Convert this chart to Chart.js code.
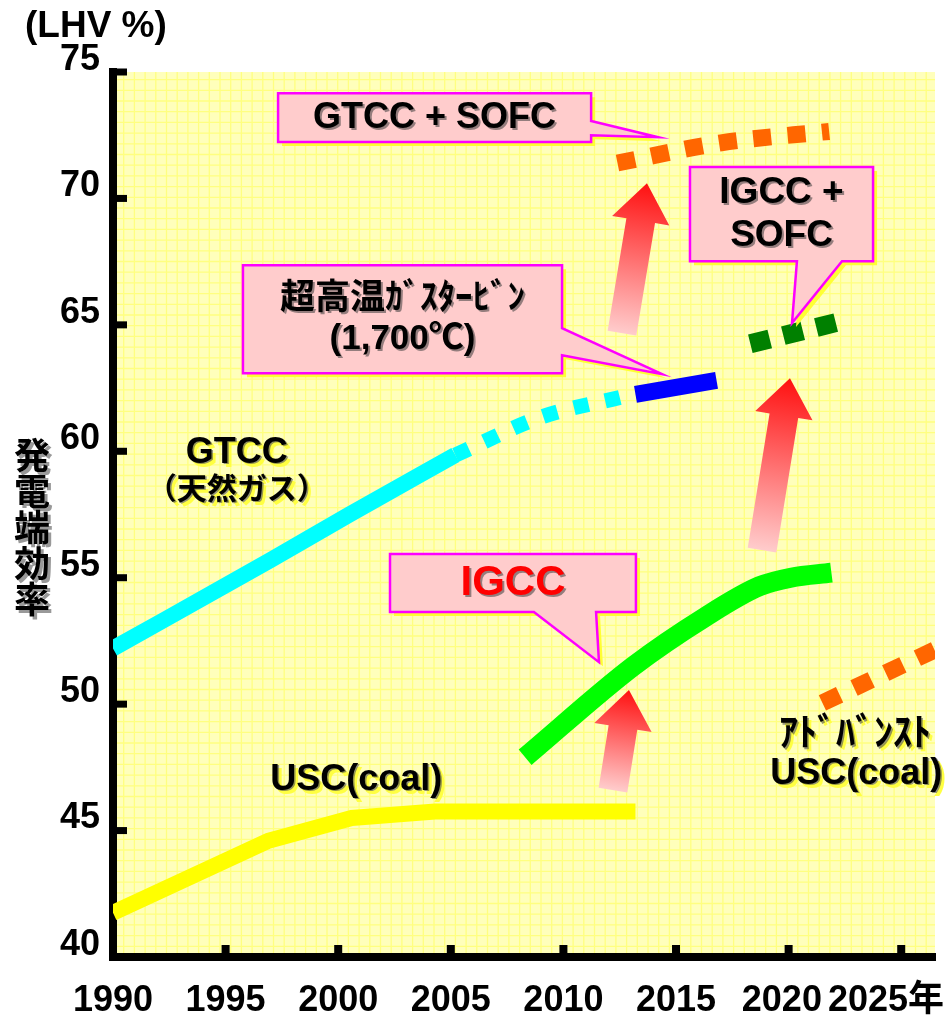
<!DOCTYPE html>
<html>
<head>
<meta charset="utf-8">
<script src="https://cdn.jsdelivr.net/npm/chart.js@4.4.1/dist/chart.umd.min.js"></script>
<style>
  html, body { margin: 0; padding: 0; background: #fff; }
</style>
</head>
<body>
<canvas id="chart" width="946" height="1021"></canvas>
<script>
// --- 軸 ---
const xTicks = [1990, 1995, 2000, 2005, 2010, 2015, 2020, 2025];
const xTickLabels = ['1990', '1995', '2000', '2005', '2010', '2015', '2020', '2025年'];
const yTicks = [40, 45, 50, 55, 60, 65, 70, 75];

// --- 系列（年, 発電端効率 LHV%） ---
const uscYears = [1990, 1996.9, 2000.6, 2004.3, 2013.2];
const uscEff   = [41.75, 44.6, 45.5, 45.75, 45.75];

const gtccYears = [1990, 1997.0, 2000.5, 2005.2];
const gtccEff   = [52.2, 55.7, 57.5, 59.85];

const gtccExtYears = [2005.2, 2009.0, 2012.6];
const gtccExtEff   = [59.85, 61.35, 62.15];

const uhtYears = [2013.2, 2016.8];
const uhtEff   = [62.25, 62.8];

const gtccSofcYears = [2012.4, 2017.0, 2021.8];
const gtccSofcEff   = [71.4, 72.2, 72.65];

const igccYears = [2008.3, 2013.1, 2016.3, 2018.7, 2020.1, 2021.9];
const igccEff   = [47.9, 51.5, 53.45, 54.66, 55.0, 55.2];

const igccSofcYears = [2018.3, 2022.15];
const igccSofcEff   = [64.25, 65.1];

const ausYears = [2021.5, 2026.5];
const ausEff   = [50.05, 52.15];

// --- 注記（データ座標） ---
const arrows = [
  { from: [2012.6, 64.67], to: [2013.71, 70.6] },
  { from: [2018.82, 56.09], to: [2020.06, 62.89] },
  { from: [2012.2, 46.6], to: [2012.91, 50.56] }
];

const callouts = [
  { lines: ['GTCC + SOFC'], box: [1997.33, 74.16, 2011.23, 72.23], side: 'right', base: [73.06, 72.5], tip: [2014.2, 72.42], size: 36, color: '#000' },
  { lines: ['IGCC +', 'SOFC'], box: [2015.62, 71.24, 2023.75, 67.52], side: 'bottom', base: [2020.37, 2022.37], tip: [2020.15, 65.07], size: 37, color: '#000' },
  { lines: ['超高温ｶﾞｽﾀｰﾋﾞﾝ', '(1,700℃)'], box: [1995.77, 67.36, 2009.94, 63.09], side: 'right', base: [64.87, 63.8], tip: [2014.38, 63.05], size: 35, color: '#000' },
  { lines: ['IGCC'], box: [2002.3, 55.94, 2013.22, 53.64], side: 'bottom', base: [2008.69, 2011.45], tip: [2011.58, 51.66], size: 42, color: '#FF0000' }
];

const plotLabels = [
  { text: 'GTCC', at: [1995.5, 59.93], size: 36 },
  { text: '（天然ガス）', at: [1995.5, 58.45], size: 30 },
  { text: 'USC(coal)', at: [2000.8, 47.0], size: 36 },
  { text: 'ｱﾄﾞﾊﾞﾝｽﾄ', at: [2022.95, 48.78], size: 38 },
  { text: 'USC(coal)', at: [2023.0, 47.24], size: 36 }
];

const FONT = '"Liberation Sans", "Noto Sans CJK JP", Arial, sans-serif';
const JP = '"Noto Sans CJK JP", sans-serif';

function toXY(xs, ys) {
  return xs.map((x, i) => ({ x, y: ys[i] }));
}

function lineSet(label, xs, ys, color, width, dash, smooth) {
  return {
    label,
    data: toXY(xs, ys),
    borderColor: color,
    borderWidth: width,
    borderDash: dash || [],
    borderCapStyle: 'butt',
    pointRadius: 0,
    cubicInterpolationMode: smooth ? 'monotone' : 'default',
    tension: 0,
    fill: false
  };
}

// 方眼紙風の背景
const paperPlugin = {
  id: 'paper',
  beforeDraw(chart) {
    const { ctx, chartArea: a } = chart;
    ctx.save();
    ctx.fillStyle = '#FFFFBB';
    ctx.fillRect(a.left, a.top, a.right - a.left, a.bottom - a.top);
    ctx.strokeStyle = '#FFFF80';
    ctx.lineWidth = 1.3;
    ctx.beginPath();
    for (let x = a.left + 10.7; x < a.right; x += 10.7) { ctx.moveTo(x, a.top); ctx.lineTo(x, a.bottom); }
    for (let y = a.bottom - 10.7; y > a.top; y -= 10.7) { ctx.moveTo(a.left, y); ctx.lineTo(a.right, y); }
    ctx.stroke();
    ctx.restore();
  }
};

function shadowText(ctx, text, x, y, shadow, off) {
  ctx.fillStyle = shadow;
  ctx.fillText(text, x + off, y + off);
}

// 矢印・吹き出し・ラベル
const notesPlugin = {
  id: 'notes',
  afterDatasetsDraw(chart) {
    const { ctx, scales: { x, y } } = chart;
    const px = v => x.getPixelForValue(v);
    const py = v => y.getPixelForValue(v);
    ctx.save();

    // 矢印
    arrows.forEach(a => {
      const x0 = px(a.from[0]), y0 = py(a.from[1]);
      const x1 = px(a.to[0]), y1 = py(a.to[1]);
      const len = Math.hypot(x1 - x0, y1 - y0);
      const ux = (x1 - x0) / len, uy = (y1 - y0) / len;
      const nx = -uy, ny = ux;
      const sw = 14.5, hw = 29, hl = 38;
      const bx = x1 - ux * hl, by = y1 - uy * hl;
      const g = ctx.createLinearGradient(x0, y0, x1, y1);
      g.addColorStop(0, '#FFCCCC');
      g.addColorStop(1, '#FF1010');
      ctx.fillStyle = g;
      ctx.beginPath();
      ctx.moveTo(x0 + nx * sw, y0 + ny * sw);
      ctx.lineTo(bx + nx * sw, by + ny * sw);
      ctx.lineTo(bx + nx * hw, by + ny * hw);
      ctx.lineTo(x1, y1);
      ctx.lineTo(bx - nx * hw, by - ny * hw);
      ctx.lineTo(bx - nx * sw, by - ny * sw);
      ctx.lineTo(x0 - nx * sw, y0 - ny * sw);
      ctx.closePath();
      ctx.fill();
    });

    // 吹き出し
    callouts.forEach(c => {
      const l = px(c.box[0]), t = py(c.box[1]), r = px(c.box[2]), b = py(c.box[3]);
      const tx = px(c.tip[0]), ty = py(c.tip[1]);
      ctx.beginPath();
      ctx.moveTo(l, t);
      ctx.lineTo(r, t);
      if (c.side === 'right') {
        ctx.lineTo(r, py(c.base[0]));
        ctx.lineTo(tx, ty);
        ctx.lineTo(r, py(c.base[1]));
        ctx.lineTo(r, b);
        ctx.lineTo(l, b);
      } else {
        ctx.lineTo(r, b);
        ctx.lineTo(px(c.base[1]), b);
        ctx.lineTo(tx, ty);
        ctx.lineTo(px(c.base[0]), b);
        ctx.lineTo(l, b);
      }
      ctx.closePath();
      ctx.save();
      ctx.shadowColor = '#FFFF33';
      ctx.shadowOffsetX = 4;
      ctx.shadowOffsetY = 4;
      ctx.fillStyle = '#FFCCCC';
      ctx.fill();
      ctx.restore();
      ctx.strokeStyle = '#FF00FF';
      ctx.lineWidth = 2.5;
      ctx.stroke();

      ctx.font = `bold ${c.size}px ${FONT}`;
      ctx.textAlign = 'center';
      ctx.textBaseline = 'middle';
      const lh = c.size * 1.15;
      const cx = (l + r) / 2;
      const cy0 = (t + b) / 2 - (c.lines.length - 1) * lh / 2;
      c.lines.forEach((s, i) => {
        shadowText(ctx, s, cx, cy0 + i * lh, 'rgba(60,60,60,0.55)', 2);
        ctx.fillStyle = c.color;
        ctx.fillText(s, cx, cy0 + i * lh);
      });
    });

    // 系列ラベル
    ctx.textAlign = 'center';
    ctx.textBaseline = 'middle';
    plotLabels.forEach(p => {
      ctx.font = `bold ${p.size}px ${FONT}`;
      const lx = px(p.at[0]), ly = py(p.at[1]);
      shadowText(ctx, p.text, lx, ly, '#FFFF40', 4);
      shadowText(ctx, p.text, lx, ly, 'rgba(80,80,80,0.6)', 1.5);
      ctx.fillStyle = '#000';
      ctx.fillText(p.text, lx, ly);
    });
    ctx.restore();
  }
};

// 内向きの目盛り・横軸ラベル・軸タイトル
const axisPlugin = {
  id: 'axisDeco',
  afterDraw(chart) {
    const { ctx, chartArea: a, scales: { x, y } } = chart;
    ctx.save();
    ctx.fillStyle = '#000';
    yTicks.slice(1).forEach(v => {
      const p = y.getPixelForValue(v);
      ctx.fillRect(a.left, p - 3.5, 14, 7);
    });
    xTicks.slice(1).forEach(v => {
      const p = x.getPixelForValue(v);
      ctx.fillRect(p - 4, a.bottom - 12, 8, 12);
    });

    // 横軸ラベル：右端からはみ出さず、隣と重ならないように寄せる
    ctx.font = `bold 36px ${FONT}`;
    ctx.textBaseline = 'middle';
    ctx.textAlign = 'center';
    const centers = [];
    let limit = chart.width - 2;
    for (let i = xTicks.length - 1; i >= 0; i--) {
      const w = ctx.measureText(xTickLabels[i]).width;
      const cx = Math.min(x.getPixelForValue(xTicks[i]), limit - w / 2);
      centers[i] = cx;
      limit = cx - w / 2 - 6;
    }
    xTicks.forEach((v, i) => ctx.fillText(xTickLabels[i], centers[i], a.bottom + 44));

    // (LHV %)
    ctx.textAlign = 'left';
    ctx.font = `bold 37px ${FONT}`;
    ctx.fillText('(LHV %)', 25, 27);

    // 縦書きタイトル
    ctx.font = `bold 36px ${JP}`;
    ctx.textAlign = 'center';
    const chars = '発電端効率'.split('');
    const mid = y.getPixelForValue(57);
    chars.forEach((ch, i) => {
      const cy = mid + (i - 2) * 36;
      ctx.fillStyle = 'rgba(110,110,110,0.7)';
      ctx.fillText(ch, 35, cy + 3);
      ctx.fillStyle = '#000';
      ctx.fillText(ch, 32, cy);
    });
    ctx.restore();
  }
};

new Chart(document.getElementById('chart'), {
  type: 'line',
  data: {
    datasets: [
      lineSet('USC(coal)', uscYears, uscEff, '#FFFF00', 16),
      lineSet('GTCC', gtccYears, gtccEff, '#00FFFF', 16, null, true),
      lineSet('GTCC (延長)', gtccExtYears, gtccExtEff, '#00FFFF', 15, [15, 17], true),
      lineSet('超高温ガスタービン', uhtYears, uhtEff, '#0000FF', 17),
      lineSet('GTCC + SOFC', gtccSofcYears, gtccSofcEff, '#FF6600', 17, [18, 16.5], true),
      lineSet('IGCC', igccYears, igccEff, '#00FF00', 20, null, true),
      lineSet('IGCC + SOFC', igccSofcYears, igccSofcEff, '#008000', 19, [20, 14]),
      lineSet('アドバンストUSC', ausYears, ausEff, '#FF6600', 17, [19, 16])
    ]
  },
  options: {
    responsive: false,
    devicePixelRatio: 1,
    animation: false,
    layout: { padding: { top: 72, right: 11, left: 0, bottom: 0 } },
    plugins: {
      legend: { display: false },
      tooltip: { enabled: false }
    },
    scales: {
      x: {
        type: 'linear',
        min: 1990,
        max: 2026.5,
        z: 1,
        afterBuildTicks: s => { s.ticks = xTicks.map(v => ({ value: v })); },
        afterFit: s => { s.height = 64; },
        grid: { display: false, drawTicks: false },
        border: { display: true, color: '#000', width: 8 },
        ticks: { display: false }
      },
      y: {
        type: 'linear',
        min: 40,
        max: 75,
        z: 1,
        afterBuildTicks: s => { s.ticks = yTicks.map(v => ({ value: v })); },
        afterFit: s => { s.width = 113; },
        grid: { display: false, drawTicks: false },
        border: { display: true, color: '#000', width: 8 },
        ticks: {
          color: '#000',
          padding: 13,
          labelOffset: -12,
          font: { family: FONT, size: 36, weight: 'bold' }
        }
      }
    }
  },
  plugins: [paperPlugin, notesPlugin, axisPlugin]
});
</script>
</body>
</html>
